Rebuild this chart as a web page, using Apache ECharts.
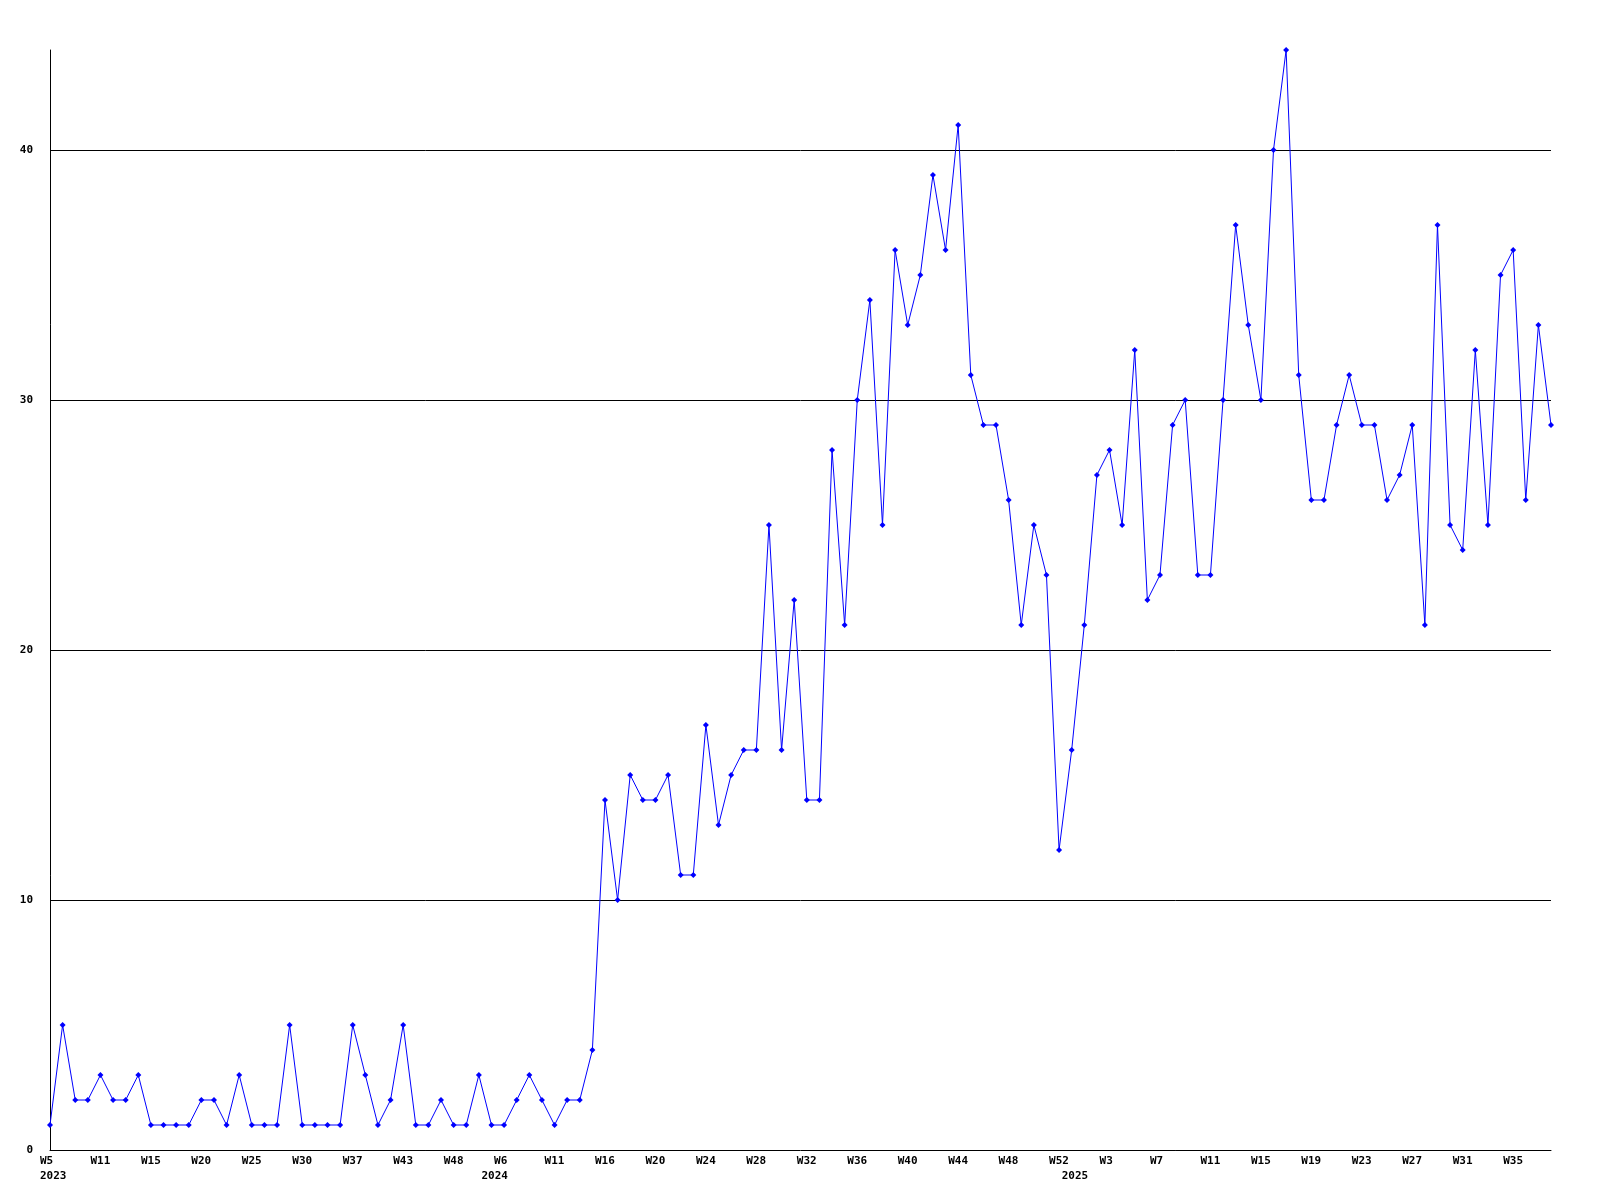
<!DOCTYPE html>
<html>
<head>
<meta charset="utf-8">
<script src="https://cdn.jsdelivr.net/npm/echarts@6/dist/echarts.min.js"></script>
<style>
html,body{margin:0;padding:0;background:#fff;}
#chart{width:1600px;height:1200px;}
</style>
</head>
<body>
<div id="chart"></div>
<script>
// Week categories (one per data point)
const weeks = [
  "W5","W6","W7","W9","W11","W12","W13","W14","W15","W16","W17","W18",
  "W20","W21","W22","W24","W25","W26","W27","W29","W30","W31","W33","W35",
  "W37","W38","W40","W41","W43","W44","W46","W47","W48","W49","W51",
  "W2","W6","W7","W8","W9","W11","W12","W14","W15",
  "W16","W17","W18","W19","W20","W21","W22","W23","W24","W25","W26","W27",
  "W28","W29","W30","W31","W32","W33","W34","W35","W36","W37","W38","W39",
  "W40","W41","W42","W43","W44","W45","W46","W47","W48","W49","W50","W51","W52",
  "W0","W1","W2","W3","W4","W5","W6","W7","W8","W9","W10","W11","W12","W13",
  "W14","W15","W16","W17","W18","W19","W20","W21","W22","W23","W24","W25",
  "W26","W27","W28","W29","W30","W31","W32","W33","W34","W35","W36","W37","W38"
];
// Year markers: [category index, label]
const yearMarks = [[0, "2023"], [35, "2024"], [81, "2025"]];
// Values
const counts = [
  1,5,2,2,3,2,2,3,1,1,1,1,
  2,2,1,3,1,1,1,5,1,1,1,1,
  5,3,1,2,5,1,1,2,1,1,3,
  1,1,2,3,2,1,2,2,4,
  14,10,15,14,14,15,11,11,17,13,15,16,
  16,25,16,22,14,14,28,21,30,34,25,36,
  33,35,39,36,41,31,29,29,26,21,25,23,12,
  16,21,27,28,25,32,22,23,29,30,23,23,30,
  37,33,30,40,44,31,26,26,29,31,29,29,
  26,27,29,21,37,25,24,32,25,35,36,26,33,29
];
const yTicks = { min: 0, max: 44, step: 10 };

const yearMap = {};
yearMarks.forEach(function (m) { yearMap[m[0]] = m[1]; });

const font = { fontFamily: 'DejaVu Sans Mono', fontWeight: 'bold', fontSize: 11, color: '#000' };

const chart = echarts.init(document.getElementById('chart'), null, { renderer: 'canvas' });
chart.setOption({
  animation: false,
  backgroundColor: '#ffffff',
  grid: { left: 50, right: 49, top: 50, bottom: 50, containLabel: false },
  xAxis: [
    {
      type: 'category',
      data: weeks,
      boundaryGap: false,
      axisLine: { show: true, lineStyle: { color: '#000', width: 1 } },
      axisTick: { show: false },
      splitLine: { show: false },
      axisLabel: Object.assign({
        interval: function (i) { return i % 4 === 0; },
        margin: 6,
        align: 'left',
        padding: [0, 0, 0, -10],
        hideOverlap: false
      }, font)
    },
    {
      type: 'category',
      data: weeks,
      boundaryGap: false,
      position: 'bottom',
      offset: 15,
      axisLine: { show: false },
      axisTick: { show: false },
      splitLine: { show: false },
      axisLabel: Object.assign({
        interval: function (i) { return yearMap[i] !== undefined; },
        formatter: function (v, i) { return yearMap[i] || ''; },
        margin: 6,
        align: 'left',
        padding: [0, 0, 0, -10],
        hideOverlap: false
      }, font)
    }
  ],
  yAxis: {
    type: 'value',
    min: yTicks.min,
    max: yTicks.max,
    interval: yTicks.step,
    axisLine: { show: true, lineStyle: { color: '#000', width: 1 } },
    axisTick: { show: false },
    splitLine: { show: true, showMinLine: false, showMaxLine: false, lineStyle: { color: '#000', width: 1 } },
    axisLabel: Object.assign({ margin: 17, showMaxLabel: false }, font)
  },
  series: [{
    type: 'line',
    data: counts,
    xAxisIndex: 0,
    symbol: 'diamond',
    symbolSize: 6,
    showAllSymbol: true,
    lineStyle: { color: '#0000ff', width: 1 },
    itemStyle: { color: '#0000ff' }
  }]
});
</script>
</body>
</html>
